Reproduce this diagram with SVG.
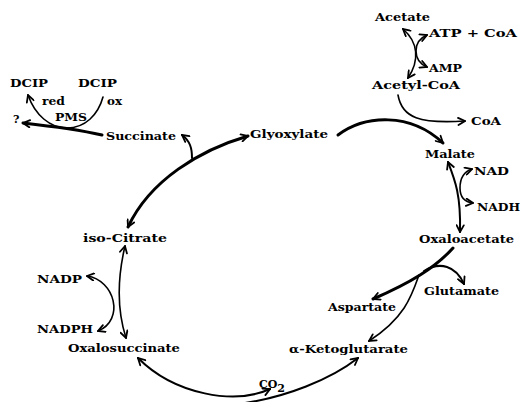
<svg xmlns="http://www.w3.org/2000/svg" width="522" height="402" viewBox="0 0 522 402">
<defs>
<style>
text{font-family:"DejaVu Serif","Liberation Serif",serif;font-weight:bold;font-size:11px;fill:#000}
.c{fill:none;stroke:#000;stroke-width:2;stroke-linecap:round}
.t{stroke-width:3}
.n{stroke-width:1.6}
</style>
<marker id="a" viewBox="0 0 10 10" refX="9" refY="5" markerWidth="9" markerHeight="9" markerUnits="userSpaceOnUse" orient="auto-start-reverse">
<path d="M1.5,1 L9,5 L1.5,9" fill="none" stroke="#000" stroke-width="2" stroke-linecap="round" stroke-linejoin="miter"/>
</marker>
</defs>
<rect width="522" height="402" fill="#fff"/>
<g id="connectors">
<path class="c t" d="M128,227 C150,180 200,150 248,136" marker-start="url(#a)" marker-end="url(#a)"/>
<path class="c" d="M192,158 C192,148 190,141 182,135" marker-end="url(#a)"/>
<path class="c n" d="M125,246 C117,280 117,310 126,338" marker-start="url(#a)" marker-end="url(#a)"/>
<path class="c n" d="M87,276 C115,280 125,320 98,331" marker-start="url(#a)" marker-end="url(#a)"/>
<path class="c" d="M138,358 C175,395 235,405 270,389" marker-start="url(#a)" marker-end="url(#a)"/>
<path class="c" d="M245,403 C285,397 330,380 358,358" marker-end="url(#a)"/>
<path class="c t" d="M453,248 C435,268 410,283 373,299" marker-end="url(#a)"/>
<path class="c" d="M424,271 C440,261 456,266 464,284" marker-end="url(#a)"/>
<path class="c n" d="M419,275 C412,295 405,318 369,341" marker-end="url(#a)"/>
<path class="c" d="M448,162 C455,180 461,195 460,232" marker-start="url(#a)" marker-end="url(#a)"/>
<path class="c n" d="M472,169 C463,172 460,180 460,188 C460,196 464,202 473,203" marker-start="url(#a)" marker-end="url(#a)"/>
<path class="c n" d="M403,29 C418,42 420,60 408,78" marker-start="url(#a)" marker-end="url(#a)"/>
<path class="c n" d="M427,35 C420,38 416,44 416,51 C416,58 420,64 427,67" marker-start="url(#a)" marker-end="url(#a)"/>
<path class="c n" d="M398,95 C402,118 420,124 465,121" marker-end="url(#a)"/>
<path class="c t" d="M338,135 C365,115 410,112 443,143" marker-end="url(#a)"/>
<path class="c t" d="M102,135 C80,130 50,126 23,123" marker-end="url(#a)"/>
<path class="c n" d="M103,97 C98,115 85,128 67,128 C50,128 35,115 28,95" marker-end="url(#a)"/>
</g>
<g id="acetate"><text x="375" y="21" textLength="55" lengthAdjust="spacingAndGlyphs">Acetate</text></g>
<g id="atp-coa"><text x="429" y="37" textLength="88" lengthAdjust="spacingAndGlyphs">ATP + CoA</text></g>
<g id="amp"><text x="429" y="72" textLength="33" lengthAdjust="spacingAndGlyphs">AMP</text></g>
<g id="acetyl-coa"><text x="372" y="89" textLength="88" lengthAdjust="spacingAndGlyphs">Acetyl-CoA</text></g>
<g id="coa"><text x="471" y="125" textLength="30" lengthAdjust="spacingAndGlyphs">CoA</text></g>
<g id="malate"><text x="425" y="158" textLength="50" lengthAdjust="spacingAndGlyphs">Malate</text></g>
<g id="nad"><text x="474" y="175" textLength="35" lengthAdjust="spacingAndGlyphs">NAD</text></g>
<g id="nadh"><text x="477" y="211" textLength="43" lengthAdjust="spacingAndGlyphs">NADH</text></g>
<g id="oxaloacetate"><text x="419" y="243" textLength="95" lengthAdjust="spacingAndGlyphs">Oxaloacetate</text></g>
<g id="glutamate"><text x="424" y="295" textLength="75" lengthAdjust="spacingAndGlyphs">Glutamate</text></g>
<g id="aspartate"><text x="328" y="311" textLength="68" lengthAdjust="spacingAndGlyphs">Aspartate</text></g>
<g id="ketoglutarate"><text x="289" y="353" textLength="119" lengthAdjust="spacingAndGlyphs">α-Ketoglutarate</text></g>
<g id="co2"><text x="259" y="388" font-size="12">CO<tspan dy="4" font-size="11">2</tspan></text></g>
<g id="oxalosuccinate"><text x="68" y="352" textLength="112" lengthAdjust="spacingAndGlyphs">Oxalosuccinate</text></g>
<g id="nadph"><text x="37" y="333" textLength="56" lengthAdjust="spacingAndGlyphs">NADPH</text></g>
<g id="nadp"><text x="37" y="283" textLength="45" lengthAdjust="spacingAndGlyphs">NADP</text></g>
<g id="isocitrate"><text x="83" y="242" textLength="84" lengthAdjust="spacingAndGlyphs">iso-Citrate</text></g>
<g id="succinate"><text x="106" y="140" textLength="70" lengthAdjust="spacingAndGlyphs">Succinate</text></g>
<g id="glyoxylate"><text x="250" y="138" textLength="78" lengthAdjust="spacingAndGlyphs">Glyoxylate</text></g>
<g id="dcip-red"><text x="10" y="87" textLength="38" lengthAdjust="spacingAndGlyphs">DCIP</text><text x="42" y="105" textLength="23" lengthAdjust="spacingAndGlyphs">red</text></g>
<g id="dcip-ox"><text x="78" y="87" textLength="39" lengthAdjust="spacingAndGlyphs">DCIP</text><text x="107" y="105" textLength="15" lengthAdjust="spacingAndGlyphs">ox</text></g>
<g id="pms"><text x="55" y="121" textLength="32" lengthAdjust="spacingAndGlyphs">PMS</text></g>
<g id="unknown"><text x="13" y="123">?</text></g>
</svg>
